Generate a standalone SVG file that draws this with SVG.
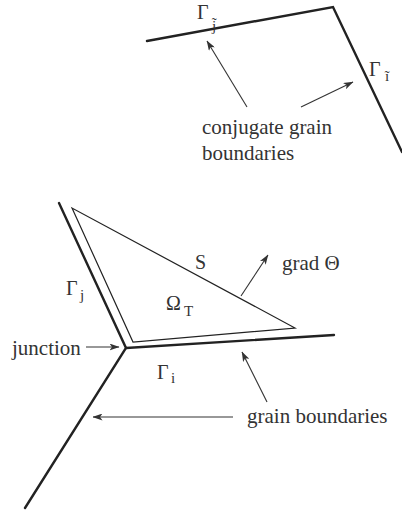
<svg xmlns="http://www.w3.org/2000/svg" width="402" height="512" viewBox="0 0 402 512">
<defs>
<marker id="ah" viewBox="0 0 10 7" refX="9.5" refY="3.5" markerWidth="10" markerHeight="7" markerUnits="userSpaceOnUse" orient="auto">
<path d="M0,0 L10,3.5 L0,7 L2.5,3.5 z" fill="#333"/>
</marker>
<style>
.gb{fill:none;stroke:#222;stroke-width:2.4;stroke-linecap:round;stroke-linejoin:miter}
.tri{fill:none;stroke:#222;stroke-width:1.2;stroke-linejoin:miter}
.ar{fill:none;stroke:#333;stroke-width:1.1;marker-end:url(#ah)}
text{font-family:"Liberation Serif","Times New Roman",serif;fill:#333}
.lb{font-size:21px}
.sym{font-size:20px}
.sub{font-size:15px}
</style>
</defs>
<rect width="402" height="512" fill="#fff"/>
<g id="conjugate-boundaries">
<polyline class="gb" points="147,41 333,7 402,152"/>
</g>
<g id="grain-boundaries">
<polyline class="gb" points="59,203 126,348 25,508"/>
<polyline class="gb" points="126,348 334,335"/>
</g>
<g id="triangle">
<polygon class="tri" points="72,208 133,342 295,328"/>
</g>
<g id="connectors">
<line class="ar" x1="247" y1="107" x2="207" y2="41"/>
<line class="ar" x1="301" y1="107" x2="353" y2="82"/>
<line class="ar" x1="241" y1="296" x2="268" y2="255"/>
<line class="ar" x1="86" y1="347" x2="119" y2="347"/>
<line class="ar" x1="233" y1="417" x2="93" y2="417"/>
<line class="ar" x1="267" y1="402" x2="242" y2="352"/>
</g>
<g id="labels">
<text class="sym" x="197" y="19">Γ</text>
<text class="sub" x="212" y="31">j̃</text>
<text class="sym" x="369" y="76">Γ</text>
<text class="sub" x="385" y="81">ĩ</text>
<text class="lb" x="202" y="134">conjugate grain</text>
<text class="lb" x="202" y="160">boundaries</text>
<text class="sym" x="195" y="269">S</text>
<text class="lb" x="282" y="270">grad Θ</text>
<text class="sym" x="66" y="295">Γ</text>
<text class="sub" x="80" y="300">j</text>
<text class="sym" x="166" y="310">Ω</text>
<text class="sub" x="184" y="316">T</text>
<text class="lb" x="12" y="355">junction</text>
<text class="sym" x="157" y="379">Γ</text>
<text class="sub" x="171" y="383">i</text>
<text class="lb" x="247" y="423">grain boundaries</text>
</g>
</svg>
